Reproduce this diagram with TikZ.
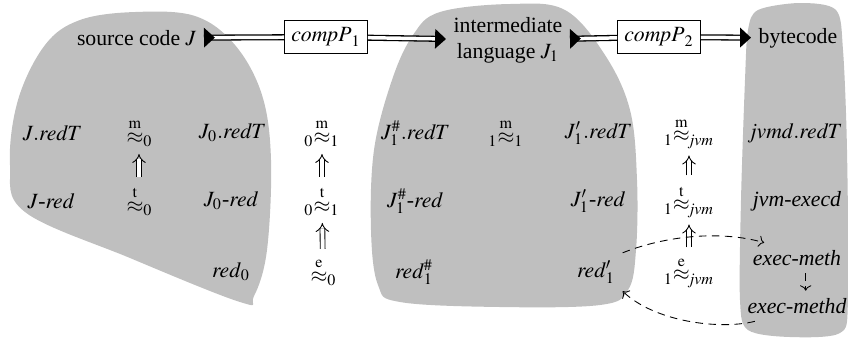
\documentclass[tikz,border=0pt]{standalone}
\usepackage{amsmath}
\usepackage{mathptmx}
\usepackage{fontspec}
\setmainfont{Liberation Serif}
\usetikzlibrary{arrows.meta}

\newcommand{\apx}[3]{{}_{#1}{\overset{\mathrm{#2}}{\approx}}_{#3}}

\begin{document}
\begin{tikzpicture}[
          x=0.46pt, y=-0.46pt,
          blob/.style={fill=black!25, draw=none},
          prog/.style={draw, line width=0.6pt, inner sep=3pt, minimum height=15pt},
          rel/.style={inner sep=1pt},
          dbl/.style={draw, double, double distance=1.6pt, line width=0.6pt},
          imp/.style={draw, double, double distance=1.8pt, -{Implies}, shorten <=3pt, shorten >=2pt},
          dsh/.style={draw, dashed, dash pattern=on 3.5pt off 2.5pt, ->},
          tri/.tip={Triangle[length=5pt, width=9pt]},
          rtri/.tip={Triangle[length=5pt, width=9pt, reversed]},
          >=To
        ]
        \useasboundingbox (0,0) rectangle (848,341);
        % languages
        \path[blob] plot[smooth cycle, tension=0.6] coordinates {
          (80,20) (135,12) (195,16) (235,45) (262,95) (271,160) (267,250)
          (254,296) (240,302) (130,258) (25,212) (10,165) (18,100) (45,45)};
        \path[blob] plot[smooth cycle, tension=0.6] coordinates {
          (440,12) (510,4) (565,10) (605,55) (630,110) (637,180) (636,250)
          (628,290) (600,305) (500,307) (400,302) (378,285) (371,230)
          (374,150) (392,80) (413,35)};
        \path[blob] plot[smooth cycle, tension=0.5] coordinates {
          (758,10) (800,3) (836,10) (843,50) (847,150) (848,300) (840,333)
          (790,337) (748,330) (740,300) (741,200) (745,80) (748,30)};
        % compilers
        \node[anchor=east] (src) at (204,38) {source code $J$};
        \node[prog] (p1) at (326,37) {$\mathit{compP}_1$};
        \node[align=center] (il) at (508,40) {intermediate\\language $J_1$};
        \node[prog] (p2) at (659,37) {$\mathit{compP}_2$};
        \node[anchor=west] (bc) at (751,38) {bytecode};
        \draw[dbl, {rtri}-] (src) -- (p1);
        \draw[dbl, -{tri}] (p1) -- (il);
        \draw[dbl, {rtri}-] (il) -- (p2);
        \draw[dbl, -{tri}] (p2) -- (bc);
        % source code J
        \node (jt) at (52,133) {$J.\mathit{redT}$};
        \node (jr) at (51,201) {$J\text{-}\mathit{red}$};
        \node[rel] (ra) at (139,133) {$\apx{}{m}{0}$};
        \node[rel] (rb) at (139,201) {$\apx{}{t}{0}$};
        \node (j0t) at (232,133) {$J_0.\mathit{redT}$};
        \node (j0r) at (231,201) {$J_0\text{-}\mathit{red}$};
        \node (r0) at (231,272) {$\mathit{red}_0$};
        \draw[imp] (rb) -- (ra);
        % J to J1
        \node[rel] (rc) at (322,133) {$\apx{0}{m}{1}$};
        \node[rel] (rd) at (322,201) {$\apx{0}{t}{1}$};
        \node[rel] (re) at (323,272) {$\apx{}{e}{0}$};
        \draw[imp] (rd) -- (rc);
        \draw[imp] (re) -- (rd);
        % intermediate language J1
        \node (jht) at (415,133) {$J_1^{\#}.\mathit{redT}$};
        \node (jhr) at (415,201) {$J_1^{\#}\text{-}\mathit{red}$};
        \node (rh1) at (414,272) {$\mathit{red}_1^{\#}$};
        \node[rel] (ri) at (506,133) {$\apx{1}{m}{1}$};
        \node (jpt) at (598,133) {$J'_1.\mathit{redT}$};
        \node (jpr) at (598,201) {$J'_1\text{-}\mathit{red}$};
        \node (rp1) at (596,272) {$\mathit{red}'_1$};
        % J1 to jvm
        \node[rel] (rf) at (689,133) {$\apx{1}{m}{\mathit{jvm}}$};
        \node[rel] (rg) at (689,201) {$\apx{1}{t}{\mathit{jvm}}$};
        \node[rel] (rk) at (689,272) {$\apx{1}{e}{\mathit{jvm}}$};
        \draw[imp] (rg) -- (rf);
        \draw[imp] (rk) -- (rg);
        % bytecode
        \node (vt) at (796,133) {$\mathit{jvmd.redT}$};
        \node (vx) at (797,201) {\textit{jvm-execd}};
        \node (em) at (797,258) {\textit{exec-meth}};
        \node (emd) at (797,306) {\textit{exec-methd}};
        \draw[dsh] (rp1.north east) .. controls (665,236) and (720,230) .. (em.155);
        \draw[dsh] ([xshift=4pt]em.south) -- ([xshift=4pt]emd.north);
        \draw[dsh] (emd.200) .. controls (720,330) and (655,322) .. (rp1.south east);
      \end{tikzpicture}
\end{document}
